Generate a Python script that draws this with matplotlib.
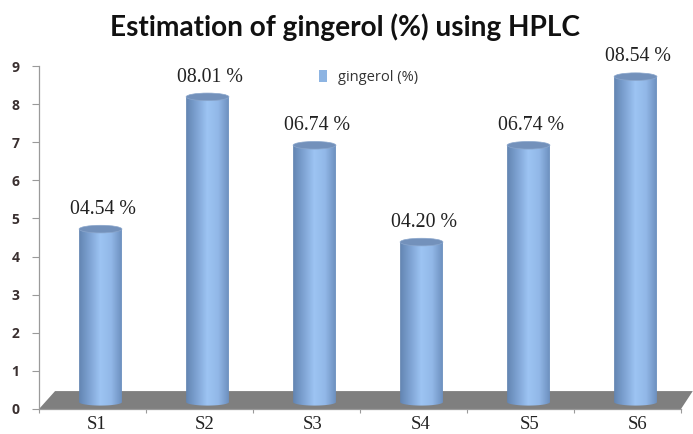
import numpy as np
import matplotlib
matplotlib.use("Agg")
import matplotlib.pyplot as plt
from matplotlib.colors import LinearSegmentedColormap
from matplotlib.patches import Ellipse, Patch, PathPatch, Polygon
from matplotlib.path import Path

samples = ['S1', 'S2', 'S3', 'S4', 'S5', 'S6']
gingerol = [4.54, 8.01, 6.74, 4.20, 6.74, 8.54]
labels = ['04.54 %', '08.01 %', '06.74 %', '04.20 %', '06.74 %', '08.54 %']
yticks = list(range(10))

fig = plt.figure(figsize=(6.93, 4.34), dpi=100)
ax = fig.add_axes([39/693, (434-409)/434, (681-39)/693, (409-66)/434])

shift = 0.075      # bars stand back on the floor
lift = 0.18
half_w = 0.2
cmap = LinearSegmentedColormap.from_list('cyl', ['#6385b2', '#7fa4d4', '#9dc4f3', '#92b8e8', '#6d90bf'])
grad = np.linspace(0, 1, 100).reshape(1, -1)

# grey floor
ax.add_patch(Polygon([(-0.5, 0), (5.5, 0), (5.61, 0.47), (-0.35, 0.47)], closed=True,
                     facecolor='#7f7f7f', edgecolor='none', clip_on=False, zorder=1))

for i, v in enumerate(gingerol):
    cx = i + shift
    top = v + lift
    t = np.linspace(2*np.pi, np.pi, 30)
    verts = [(cx - half_w, top), (cx + half_w, top)]
    verts += list(zip(cx + half_w*np.cos(t), lift + 0.09*np.sin(t)))
    verts += [(cx - half_w, top)]
    im = ax.imshow(grad, extent=(cx - half_w, cx + half_w, lift - 0.1, top), cmap=cmap,
                   aspect='auto', zorder=3)
    clip = PathPatch(Path(verts), transform=ax.transData, facecolor='none', edgecolor='none')
    ax.add_patch(clip)
    im.set_clip_path(clip)
    ax.add_patch(Ellipse((cx, top), 2*half_w, 0.2, facecolor='#7391bb', edgecolor='#8aa6cc',
                         linewidth=0.5, zorder=4))
    ax.text(cx + 0.025, top + 0.27, labels[i], ha='center', va='bottom', fontsize=14.3,
            family='Liberation Serif', color='#222222', zorder=5)

ax.set_xlim(-0.5, 5.5)
ax.set_ylim(0, 9)
ax.set_xticks(np.arange(-0.5, 6, 1))
ax.set_xticklabels([])
ax.set_xticks([i*1.012 + 0.035 for i in range(6)], samples, minor=True)
ax.tick_params(axis='x', which='minor', length=0, pad=5, labelsize=13.5, labelcolor='#222222')
for lab in ax.get_xticklabels(minor=True):
    lab.set_family('Liberation Serif')
ax.tick_params(axis='x', which='major', direction='out', length=3, color='#9a9a9a')
ax.set_yticks(yticks)
ax.tick_params(axis='y', direction='out', length=5, color='#9a9a9a', labelsize=10, pad=9,
              labelcolor='#3a3030')
for lab in ax.get_yticklabels():
    lab.set_family('Open Sans')
    lab.set_fontweight('bold')
for s in ['top', 'right']:
    ax.spines[s].set_visible(False)
for s in ['left', 'bottom']:
    ax.spines[s].set_color('#9a9a9a')
    ax.spines[s].set_linewidth(0.9)

handle = Patch(facecolor='#8db4e2', edgecolor='none', label='gingerol (%)')
leg = ax.legend(handles=[handle], loc='center left', bbox_to_anchor=(0.415, 0.967), frameon=False,
                handlelength=0.6, handleheight=0.9, handletextpad=0.7,
                prop={'family': 'Open Sans', 'size': 10.5})
leg.get_texts()[0].set_color('#333333')

fig.text(345/693, 1 - 27/434, 'Estimation of gingerol (%) using HPLC', ha='center', va='center',
         fontsize=20.2, fontweight='bold', family='Lato', color='#111111')

fig.savefig('out.png', dpi=100)
